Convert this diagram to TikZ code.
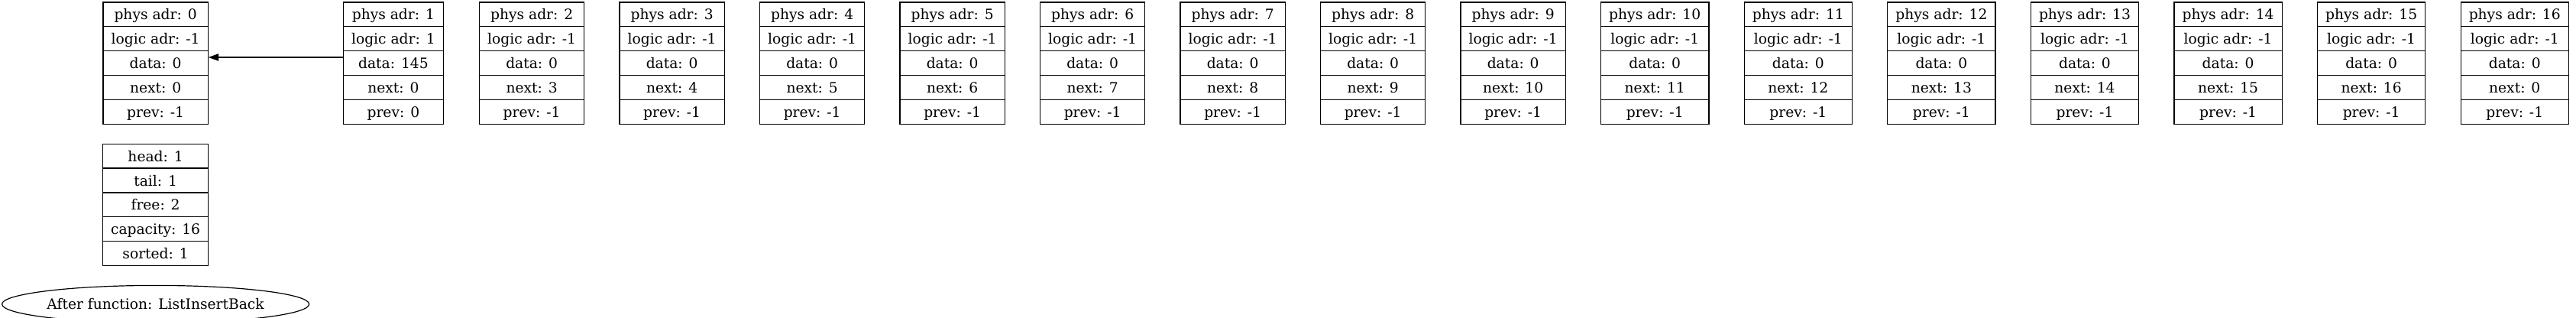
\documentclass[tikz,border=0pt]{standalone}
\usepackage{fontspec}
\setmainfont{DejaVu Serif}
\usetikzlibrary{positioning,shapes.multipart,shapes.geometric,arrows.meta}

% one field of a record, all fields the same height
\newcommand{\fs}{\rule[-6.2pt]{0pt}{23pt}}
\newcommand{\rec}[5]{\fs #1\nodepart{two}\fs #2\nodepart{three}\fs #3\nodepart{four}\fs #4\nodepart{five}\fs #5}

\begin{document}
\begin{tikzpicture}
    [record/.style={draw, line width=0.9pt, rectangle split, rectangle split parts=5,
      inner xsep=8pt, inner ysep=0pt, font=\fontsize{14}{16.8}\selectfont},
    caption/.style={draw, line width=0.9pt, ellipse, inner sep=0pt,
      minimum width=297pt, minimum height=36.75pt, font=\fontsize{14}{16.8}\selectfont},
    gap/.style={right=33.8pt of #1}]
    \useasboundingbox (0,0) rectangle (2529pt,-312pt);
    \node[record] (n0) at (152.7pt,-62pt) {\rec{phys adr: 0}{logic adr: -1}{data: 0}{next: 0}{prev: -1}};
    \node[record, right=132pt of n0] (n1) {\rec{phys adr: 1}{logic adr: 1}{data: 145}{next: 0}{prev: 0}};
    \node[record, right=34.5pt of n1] (n2) {\rec{phys adr: 2}{logic adr: -1}{data: 0}{next: 3}{prev: -1}};
    \node[record, gap=n2] (n3) {\rec{phys adr: 3}{logic adr: -1}{data: 0}{next: 4}{prev: -1}};
    \node[record, gap=n3] (n4) {\rec{phys adr: 4}{logic adr: -1}{data: 0}{next: 5}{prev: -1}};
    \node[record, gap=n4] (n5) {\rec{phys adr: 5}{logic adr: -1}{data: 0}{next: 6}{prev: -1}};
    \node[record, gap=n5] (n6) {\rec{phys adr: 6}{logic adr: -1}{data: 0}{next: 7}{prev: -1}};
    \node[record, gap=n6] (n7) {\rec{phys adr: 7}{logic adr: -1}{data: 0}{next: 8}{prev: -1}};
    \node[record, gap=n7] (n8) {\rec{phys adr: 8}{logic adr: -1}{data: 0}{next: 9}{prev: -1}};
    \node[record, gap=n8] (n9) {\rec{phys adr: 9}{logic adr: -1}{data: 0}{next: 10}{prev: -1}};
    \node[record, gap=n9] (n10) {\rec{phys adr: 10}{logic adr: -1}{data: 0}{next: 11}{prev: -1}};
    \node[record, gap=n10] (n11) {\rec{phys adr: 11}{logic adr: -1}{data: 0}{next: 12}{prev: -1}};
    \node[record, gap=n11] (n12) {\rec{phys adr: 12}{logic adr: -1}{data: 0}{next: 13}{prev: -1}};
    \node[record, gap=n12] (n13) {\rec{phys adr: 13}{logic adr: -1}{data: 0}{next: 14}{prev: -1}};
    \node[record, gap=n13] (n14) {\rec{phys adr: 14}{logic adr: -1}{data: 0}{next: 15}{prev: -1}};
    \node[record, gap=n14] (n15) {\rec{phys adr: 15}{logic adr: -1}{data: 0}{next: 16}{prev: -1}};
    \node[record, gap=n15] (n16) {\rec{phys adr: 16}{logic adr: -1}{data: 0}{next: 0}{prev: -1}};
    % list header and caption
    \node[record, below=18.5pt of n0] (hdr) {\rec{head: 1}{tail: 1}{free: 2}{capacity: 16}{sorted: 1}};
    \node[caption, below=18.5pt of hdr] (cap) {After function: ListInsertBack};
    \draw[line width=0.9pt, -{Triangle[length=10pt,width=7pt]}]
      ([yshift=5.75pt]n1.three west) -- ([yshift=5.75pt]n0.three east);
\end{tikzpicture}
\end{document}
